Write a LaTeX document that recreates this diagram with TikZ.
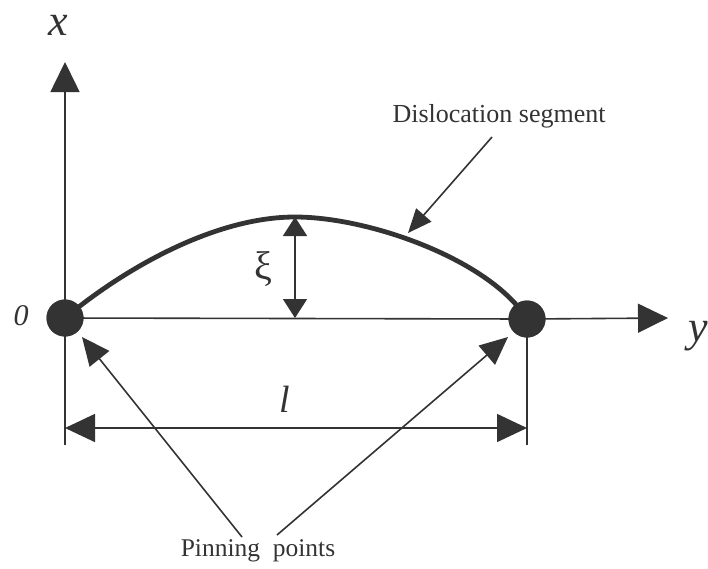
\documentclass[tikz,border=0pt]{standalone}
\usepackage{fontspec}
\setmainfont{Liberation Serif}
\usetikzlibrary{arrows.meta}
\definecolor{ink}{HTML}{333333}
\tikzset{
  axisline/.style={draw=ink, line width=1.6pt},
  bigtip/.style={-{Triangle[length=30pt,width=29pt]}},
  dimtip/.style={{Triangle[length=30pt,width=28pt]}-{Triangle[length=30pt,width=28pt]}},
  xitip/.style={{Triangle[length=19pt,width=24pt]}-{Triangle[length=19pt,width=24pt]}},
  pintip/.style={-{Triangle[length=28pt,width=25pt]}},
  segtip/.style={-{Triangle[length=24pt,width=20pt]}},
  dot/.style={circle, fill=ink, minimum size=37pt, inner sep=0pt},
  lbl/.style={text=ink, inner sep=0pt},
}
\begin{document}
\begin{tikzpicture}[x=1pt,y=-1pt]
\useasboundingbox (0,0) rectangle (708,568);
% pinning dots
\node[dot] (A) at (65,318) {};
\node[dot] (B) at (527,319) {};
% coordinates
\coordinate (xbot) at (65,445);
\coordinate (xtop) at (65,62);
\coordinate (ytip) at (668,318);
\coordinate (Bbot) at (527,445);
\coordinate (dl) at (65,428);
\coordinate (dr) at (527,428);
\coordinate (peak) at (295,217);
\coordinate (foot) at (295,318);
\coordinate (pinL) at (242,537);
\coordinate (pinR) at (277,535);
\coordinate (pinLt) at (82,337);
\coordinate (pinRt) at (508,337);
\coordinate (segs) at (492,137);
\coordinate (segt) at (408,233);
% axes
\draw[axisline, bigtip] (xbot) -- (xtop);
\draw[axisline] (A.center) -- (B.center);
\draw[axisline, bigtip] (B.center) -- (ytip);
\draw[axisline] (B.center) -- (Bbot);
% dimension l
\draw[axisline, dimtip] (dl) -- (dr);
% curve
\draw[draw=ink, line width=4.8pt] (A.center) .. controls (125,268) and (215,217) .. (peak)
  .. controls (370,217) and (490,260) .. (B.center);
% xi arrow
\draw[axisline, xitip] (peak) -- (foot);
% pinning arrows
\draw[axisline, pintip] (pinL) -- (pinLt);
\draw[axisline, pintip] (pinR) -- (pinRt);
% segment arrow
\draw[axisline, segtip] (segs) -- (segt);
% dots on top
\node[dot] at (A) {};
\node[dot] at (B) {};
% labels
\node[lbl, font=\fontsize{44}{48}\selectfont\itshape, anchor=base] (xl) at (58,35) {x};
\node[lbl, font=\fontsize{44}{48}\selectfont\itshape, anchor=base west] (yl) at (688,341) {y};
\node[lbl, font=\fontsize{30}{34}\selectfont\itshape, anchor=base] (zl) at (21,325) {0};
\node[lbl, font=\fontsize{38}{42}\selectfont\itshape, anchor=base] (ll) at (285,412) {l};
\node[lbl, font=\fontsize{40}{44}\selectfont] (xil) at (263,269) {ξ};
\node[lbl, font=\fontsize{26}{30}\selectfont] (segl) at (499,116) {Dislocation segment};
\node[lbl, font=\fontsize{25.5}{30}\selectfont] (pinl) at (258,551) {Pinning\ \ points};
\end{tikzpicture}
\end{document}
